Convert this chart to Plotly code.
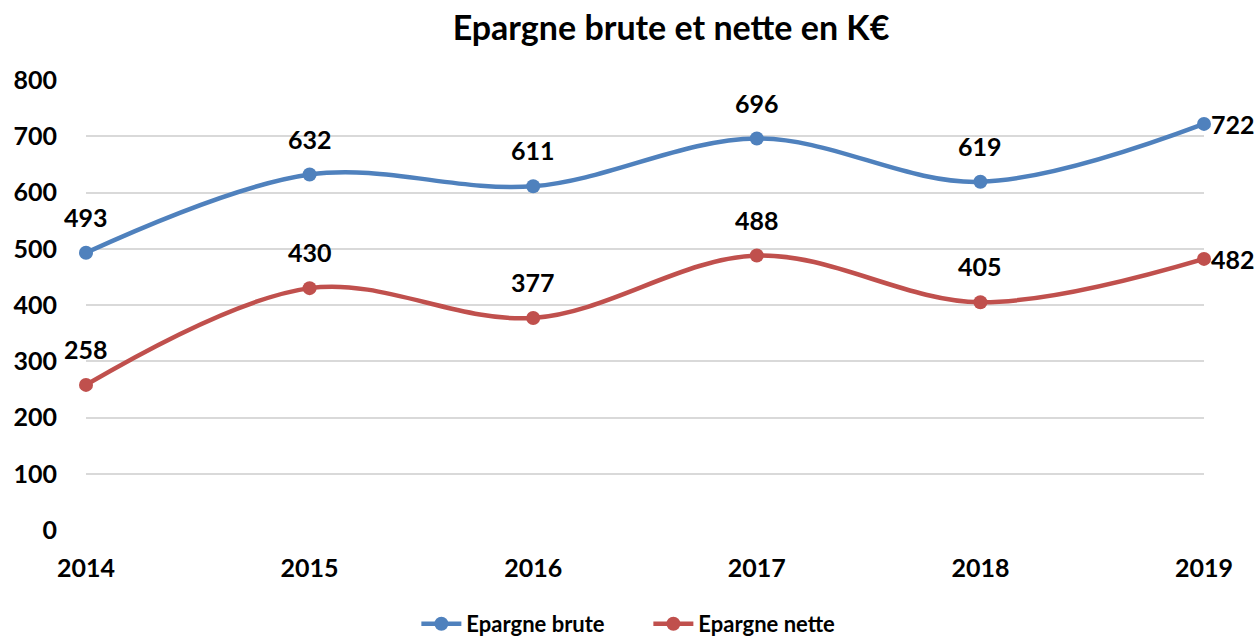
import plotly.graph_objects as go

years = ["2014", "2015", "2016", "2017", "2018", "2019"]
brute = [493, 632, 611, 696, 619, 722]
nette = [258, 430, 377, 488, 405, 482]
y_ticks = [0, 100, 200, 300, 400, 500, 600, 700, 800]

BLUE = "#4F81BD"
RED = "#C0504D"
FONT = "Lato"

fig = go.Figure()
for name, vals, col in [("Epargne brute", brute, BLUE), ("Epargne nette", nette, RED)]:
    fig.add_trace(go.Scatter(
        x=years, y=vals, name=name, mode="lines+markers",
        line=dict(color=col, width=4.5, shape="spline", smoothing=1),
        marker=dict(color=col, size=14),
        cliponaxis=False,
    ))

annotations = []
for vals in (brute, nette):
    for i, v in enumerate(vals):
        last = i == len(years) - 1
        annotations.append(dict(
            x=i, y=v, xref="x", yref="y", text=str(v), showarrow=False,
            xanchor="left" if last else "center",
            yanchor="middle",
            xshift=5 if last else 0,
            yshift=0 if last else 36,
            font=dict(family=FONT, size=25, color="black", weight="bold"),
        ))

fig.update_layout(
    width=1256, height=636,
    margin=dict(l=86, r=52, t=80, b=106),
    paper_bgcolor="white", plot_bgcolor="white",
    font=dict(family=FONT, color="black"),
    title=dict(text="<b>Epargne brute et nette en K€</b>", x=671 / 1256, xanchor="center", xref="container",
               y=1 - 28 / 636, yanchor="middle", yref="container",
               font=dict(family=FONT, size=34, color="black")),
    showlegend=True,
    legend=dict(orientation="h", x=0.2955, xanchor="left", y=1 - 624 / 636, yanchor="middle",
                yref="container", font=dict(family=FONT, size=22, color="black", weight="bold"),
                itemwidth=40, entrywidth=177, entrywidthmode="pixels"),
    annotations=annotations,
)
fig.update_xaxes(type="category", range=[0, 5], showgrid=False, showline=False, zeroline=False,
                 tickfont=dict(family=FONT, size=25, color="black", weight="bold"),
                 ticks="", ticklabelstandoff=21, automargin=False)
fig.update_yaxes(range=[0, 800], tickvals=y_ticks, showgrid=True, gridcolor="#D9D9D9", gridwidth=1.5,
                 zeroline=False, showline=False, ticks="",
                 tickfont=dict(family=FONT, size=25, color="black", weight="bold"),
                 ticklabelstandoff=28, automargin=False)

fig.write_html("out.html", config={"displayModeBar": False},
               post_script="document.body.style.margin='0';")
